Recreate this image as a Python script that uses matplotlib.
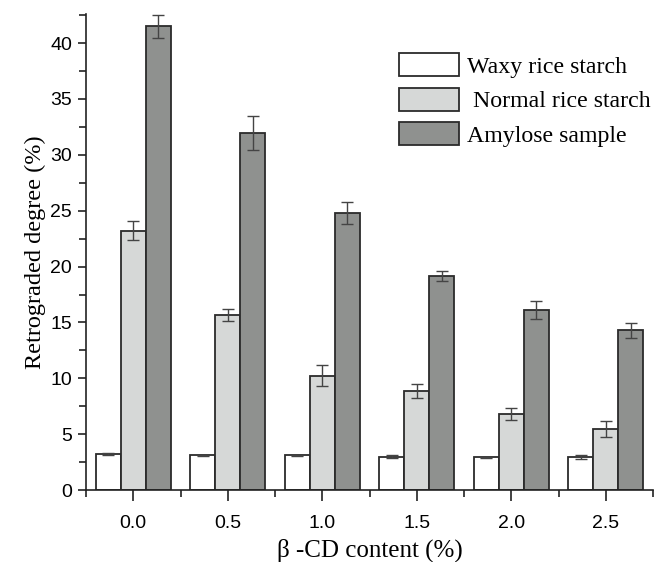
import matplotlib
matplotlib.use("Agg")
import matplotlib.pyplot as plt
from matplotlib.ticker import MultipleLocator, FixedLocator
import numpy as np

# ---------------------------------------------------------------------------
# Data
# ---------------------------------------------------------------------------
cd_content = [0.0, 0.5, 1.0, 1.5, 2.0, 2.5]
tick_labels = ["0.0", "0.5", "1.0", "1.5", "2.0", "2.5"]

waxy = [3.2, 3.1, 3.1, 3.0, 2.95, 2.95]
waxy_err = [0.08, 0.08, 0.08, 0.12, 0.04, 0.18]

normal = [23.2, 15.65, 10.25, 8.85, 6.8, 5.45]
normal_err = [0.85, 0.55, 0.95, 0.65, 0.55, 0.7]

amylose = [41.5, 31.95, 24.8, 19.15, 16.1, 14.3]
amylose_err = [1.0, 1.5, 1.0, 0.48, 0.82, 0.65]

series_names = ["Waxy rice starch", " Normal rice starch", "Amylose sample"]

# ---------------------------------------------------------------------------
# Style
# ---------------------------------------------------------------------------
FILLS = ["#ffffff", "#d6d8d7", "#8f918f"]
EDGE = "#2b2b2b"
ERR = "#444444"
SERIF = ["Liberation Serif", "DejaVu Serif"]
SANS = ["Liberation Sans", "DejaVu Sans"]

fig = plt.figure(figsize=(6.54, 5.62), dpi=100)
ax = fig.add_axes([0.1315, 0.128, 0.867, 0.847])

x = np.array(cd_content)
bar_w = 0.133
offsets = [-bar_w, 0.0, bar_w]
values = [waxy, normal, amylose]
errors = [waxy_err, normal_err, amylose_err]

for vals, errs, off, fill, name in zip(values, errors, offsets, FILLS, series_names):
    ax.bar(x + off, vals, width=bar_w, color=fill, edgecolor=EDGE,
           linewidth=1.3, label=name, zorder=2)
    ax.errorbar(x + off, vals, yerr=errs, fmt="none", ecolor=ERR,
                elinewidth=1.0, capsize=4.5, capthick=1.0, zorder=3)

ax.set_xlim(-0.25, 2.75)
ax.set_ylim(0, 42.6)
ax.set_xticks(cd_content)
ax.set_xticklabels(tick_labels)
ax.xaxis.set_minor_locator(FixedLocator(
    [c - 0.25 for c in cd_content] + [cd_content[-1] + 0.25]))
ax.yaxis.set_major_locator(MultipleLocator(5))
ax.yaxis.set_minor_locator(MultipleLocator(2.5))

for side in ("top", "right"):
    ax.spines[side].set_visible(False)
for side in ("left", "bottom"):
    ax.spines[side].set_linewidth(1.2)
    ax.spines[side].set_color("#222222")

ax.tick_params(axis="both", which="major", direction="out", length=6,
               width=1.2, color="#222222", labelsize=14)
ax.tick_params(axis="x", which="major", length=8, pad=10)
ax.tick_params(axis="y", which="major", pad=4)
ax.tick_params(axis="both", which="minor", direction="out", length=5,
               width=1.2, color="#222222")
for lbl in ax.get_xticklabels() + ax.get_yticklabels():
    lbl.set_family(SANS)

ax.set_xlabel("\u03b2 -CD content (%)", fontsize=18, family=SERIF, labelpad=5)
ax.set_ylabel("Retrograded degree (%)", fontsize=17.5, family=SERIF, labelpad=3)

ax.legend(loc="upper left", bbox_to_anchor=(0.552, 0.918), frameon=False,
          prop={"family": SERIF, "size": 17.2}, handlelength=2.5,
          handleheight=1.1, handletextpad=0.33, labelspacing=0.42,
          borderpad=0, borderaxespad=0)

fig.savefig("out.png", dpi=100)
plt.close(fig)
